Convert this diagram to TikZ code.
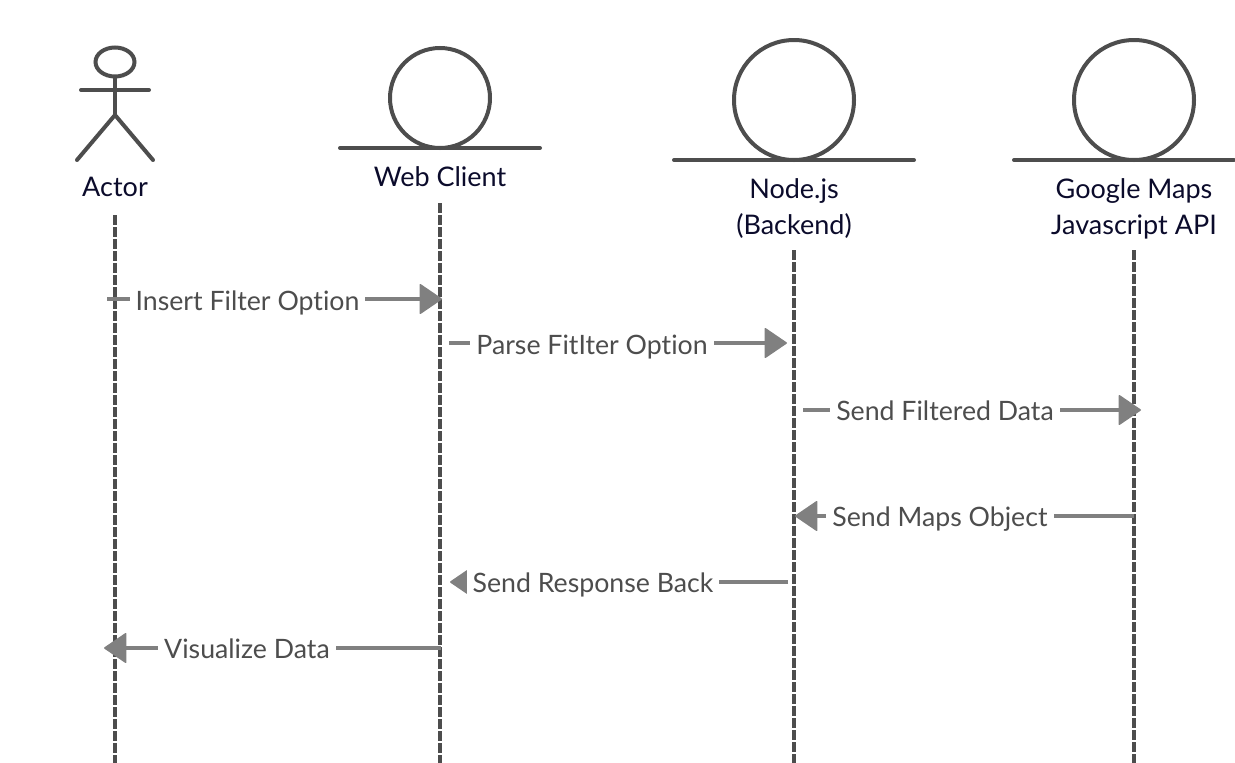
\documentclass[tikz,border=0pt]{standalone}
\usepackage{fontspec}
\setmainfont[Ligatures=NoCommon]{Lato}
\usetikzlibrary{arrows.meta,shapes.geometric}
\definecolor{ink}{HTML}{4D4D4D}
\definecolor{msgline}{HTML}{808080}
\definecolor{title}{HTML}{0B0B2B}
\tikzset{
  x=1pt,y=-1pt,
  shapeline/.style={draw=ink,line width=4pt,line cap=round,line join=round},
  entity/.style={circle,draw=ink,line width=4pt,inner sep=0pt,fill=none},
  lifeline/.style={draw=ink,line width=4pt,dash pattern=on 9.5pt off 2.5pt},
  msg/.style={draw=msgline,line width=4pt},
  tipped/.style={msg,-{Triangle[length=23pt,width=31pt,fill=msgline,line width=1.5pt,round]}},
  titletext/.style={font=\fontsize{27}{32}\selectfont,text=title,inner sep=0pt,align=center},
  msgtext/.style={font=\fontsize{26.7}{31}\selectfont,text=ink,fill=white,inner xsep=6pt,inner ysep=8pt,anchor=base},
}
\begin{document}
\begin{tikzpicture}
\useasboundingbox (0,0) rectangle (1235,763);
% actor
\node[ellipse,draw=ink,line width=4pt,inner sep=0pt,minimum width=39pt,minimum height=29pt] (head) at (115,62) {};
\coordinate (hip) at (115,115);
\coordinate (armL) at (81,90);
\coordinate (armR) at (149,90);
\coordinate (legL) at (77,160);
\coordinate (legR) at (153,160);
\draw[shapeline] (head.south) -- (hip);
\draw[shapeline] (armL) -- (armR);
\draw[shapeline] (legL) -- (hip) -- (legR);
\node[titletext] (actorT) at (115,187) {Actor};
% entities
\node[entity,minimum size=100pt] (webC) at (440,98) {};
\coordinate (webL) at (340,148); \coordinate (webR) at (540,148);
\draw[shapeline] (webL) -- (webR);
\node[titletext] (webT) at (440,176.5) {Web Client};
\node[entity,minimum size=120pt] (nodeC) at (794,100) {};
\coordinate (nodeL) at (674,160); \coordinate (nodeR) at (914,160);
\draw[shapeline] (nodeL) -- (nodeR);
\node[titletext,font=\fontsize{27}{36}\selectfont] (nodeT) at (794,208.5) {Node.js\\(Backend)};
\node[entity,minimum size=120pt] (gC) at (1134,100) {};
\coordinate (gL) at (1014,160); \coordinate (gR) at (1234,160);
\draw[shapeline] (gL) -- (gR);
\node[titletext,font=\fontsize{27}{36}\selectfont] (gT) at (1134,208.5) {Google Maps\\Javascript API};
% lifelines
\coordinate (aTop) at (115,215); \coordinate (aBot) at (115,763);
\coordinate (wTop) at (439.5,203); \coordinate (wBot) at (439.5,763);
\coordinate (nTop) at (794,250); \coordinate (nBot) at (794,763);
\coordinate (gTop) at (1134,250); \coordinate (gBot) at (1134,763);
\draw[lifeline] (aTop) -- (aBot);
\draw[lifeline] (wTop) -- (wBot);
\draw[lifeline] (nTop) -- (nBot);
\draw[lifeline] (gTop) -- (gBot);
% messages
\coordinate (m1a) at (107,299); \coordinate (m1b) at (442,299);
\coordinate (m2a) at (449,343); \coordinate (m2b) at (787,343);
\coordinate (m3a) at (803,410); \coordinate (m3b) at (1141,410);
\coordinate (m4a) at (1134,516); \coordinate (m4b) at (795,516);
\coordinate (m5a) at (788,582); \coordinate (m5b) at (450,582);
\coordinate (m6a) at (441,648); \coordinate (m6b) at (104,648);
\draw[tipped] (m1a) -- (m1b);
\draw[tipped] (m2a) -- (m2b);
\draw[tipped] (m3a) -- (m3b);
\draw[tipped] (m4a) -- (m4b);
\draw[tipped] (m5a) -- (m5b);
\draw[tipped] (m6a) -- (m6b);
\node[msgtext] (l1) at (247.5,310) {Insert Filter Option};
\node[msgtext] (l2) at (592,354) {Parse FitIter Option};
\node[msgtext] (l3) at (945,420) {Send Filtered Data};
\node[msgtext] (l4) at (940,526) {Send Maps Object};
\node[msgtext] (l5) at (593,592) {Send Response Back};
\node[msgtext] (l6) at (247,658) {Visualize Data};
\end{tikzpicture}
\end{document}
